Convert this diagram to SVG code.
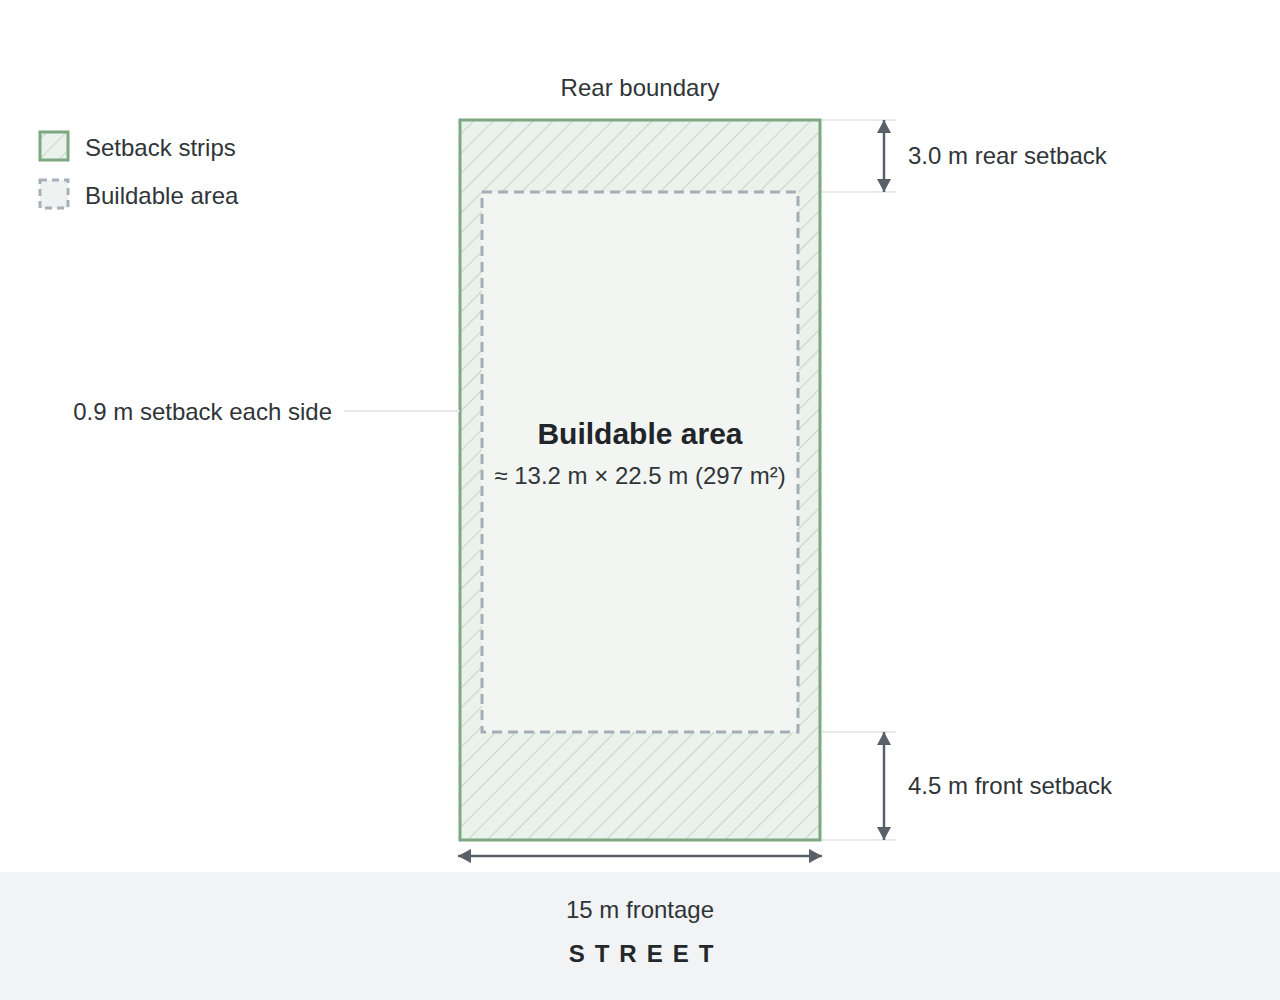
<svg xmlns="http://www.w3.org/2000/svg" width="1280" height="1000" viewBox="0 0 1280 1000">
<style>
text{font-family:"Liberation Sans",Arial,sans-serif;fill:#2f3538}
.lbl{font-size:24px}
.ext{stroke:#dfe2e5;stroke-width:1.5;fill:none}
.dim{stroke:#596069;stroke-width:2.5;fill:none}
.setback{fill:url(#hatch);stroke:#7da881;stroke-width:3}
.build{fill:#f3f5f2;stroke:#a5aeb7;stroke-width:3;stroke-dasharray:10 6}
</style>
<defs>
<pattern id="hatch" patternUnits="userSpaceOnUse" width="14" height="14" patternTransform="rotate(45)">
<rect width="14" height="14" fill="#ebf2eb"/>
<line x1="0" y1="0" x2="0" y2="14" stroke="#b2c4b3" stroke-width="1.3"/>
</pattern>
<marker id="ah" viewBox="0 0 13 14" refX="13" refY="7" markerWidth="13" markerHeight="14" markerUnits="userSpaceOnUse" orient="auto-start-reverse">
<path d="M0,0 L13,7 L0,14 Z" fill="#596069"/>
</marker>
</defs>
<rect width="1280" height="1000" fill="#ffffff"/>
<g id="street">
<rect x="0" y="872" width="1280" height="128" fill="#f1f3f4"/>
<text x="640" y="918" text-anchor="middle" class="lbl">15 m frontage</text>
<text x="646" y="962" text-anchor="middle" style="font-size:24px;font-weight:bold;letter-spacing:10px;fill:#22282b">STREET</text>
</g>
<g id="legend">
<rect x="40" y="132" width="28" height="28" class="setback" stroke-width="2"/>
<text x="85" y="156" class="lbl">Setback strips</text>
<rect x="40" y="180" width="28" height="28" fill="#eef2f0" stroke="#a7b0b8" stroke-width="3" stroke-dasharray="7 5"/>
<text x="85" y="204" class="lbl">Buildable area</text>
</g>
<g id="lot">
<rect x="460" y="120" width="360" height="720" class="setback"/>
<text x="640" y="96" text-anchor="middle" class="lbl">Rear boundary</text>
</g>
<g id="buildable">
<rect x="482" y="192" width="316" height="540" class="build"/>
<text x="640" y="444" text-anchor="middle" style="font-size:30px;font-weight:bold;fill:#1f2528">Buildable area</text>
<text x="640" y="484" text-anchor="middle" class="lbl">≈ 13.2 m × 22.5 m (297 m²)</text>
</g>
<g id="connectors">
<line x1="822" y1="120" x2="896" y2="120" class="ext"/>
<line x1="822" y1="192" x2="896" y2="192" class="ext"/>
<line x1="822" y1="732" x2="896" y2="732" class="ext"/>
<line x1="822" y1="840" x2="896" y2="840" class="ext"/>
<line x1="344" y1="411" x2="460" y2="411" class="ext"/>
<line x1="884" y1="120" x2="884" y2="192" class="dim" marker-start="url(#ah)" marker-end="url(#ah)"/>
<line x1="884" y1="732" x2="884" y2="840" class="dim" marker-start="url(#ah)" marker-end="url(#ah)"/>
<line x1="458" y1="856" x2="822" y2="856" class="dim" marker-start="url(#ah)" marker-end="url(#ah)"/>
</g>
<g id="labels">
<text x="908" y="164" class="lbl">3.0 m rear setback</text>
<text x="908" y="794" class="lbl">4.5 m front setback</text>
<text x="332" y="420" text-anchor="end" class="lbl">0.9 m setback each side</text>
</g>
</svg>
